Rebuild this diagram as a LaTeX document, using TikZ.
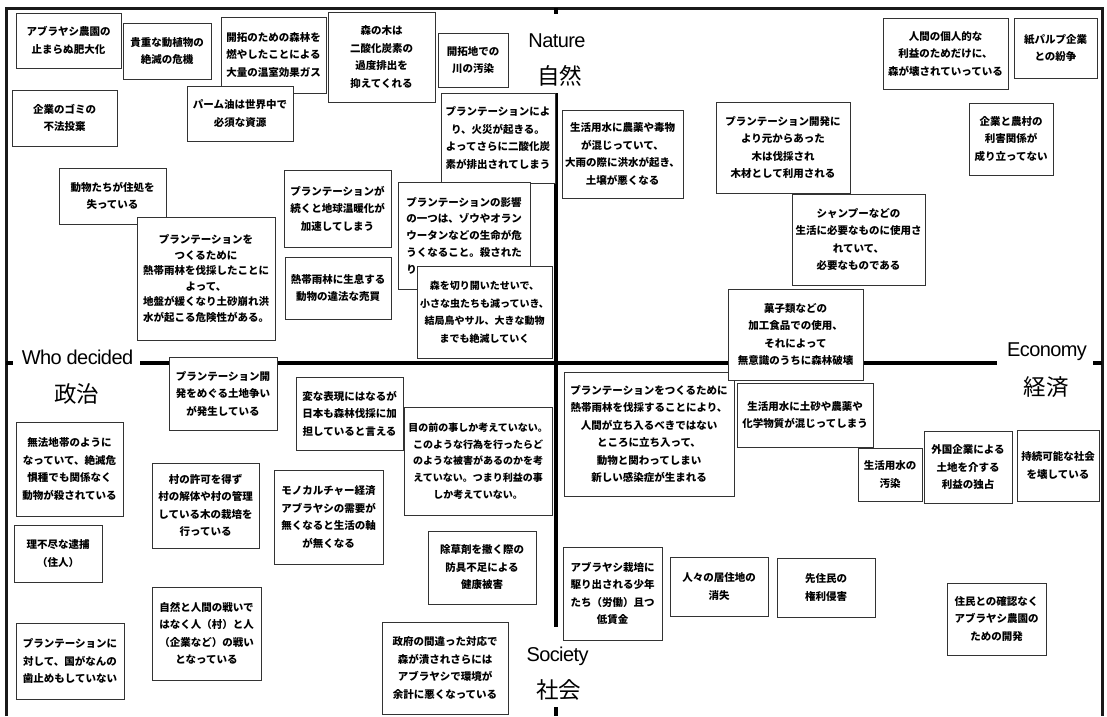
\documentclass[tikz,border=0pt]{standalone}
\usepackage{fontspec}
\newfontfamily\jp{Noto Sans CJK JP}
\newfontfamily\labf[LetterSpace=-3]{Liberation Sans}
\begin{document}
\begin{tikzpicture}[x=1pt,y=-1pt,
  bx/.style={draw=black!80, line width=1pt, fill=white, inner sep=0pt, align=center,
    font=\jp\bfseries\fontsize{10.5}{17.5}\selectfont},
  sz/.style 2 args={bx, minimum width=#1pt, minimum height=#2pt},
  ax/.style={line width=3.5pt, black},
  fr/.style={line width=3pt, black!90},
  labl/.style={font=\labf\fontsize{20}{20}\selectfont, inner sep=0pt},
  kan/.style={font=\jp\fontsize{22.5}{24}\selectfont, inner sep=0pt}
]
\useasboundingbox (0,0) rectangle (1107,716);
\fill[white] (0,0) rectangle (1107,716);
% frame
\draw[fr] (6.5,716) -- (6.5,8.5) -- (1102.5,8.5) -- (1102.5,716);
% axes
\draw[ax] (556,8) -- (556,14);
\draw[ax] (556,93) -- (556,627);
\draw[ax] (556,707) -- (556,716);
\draw[ax] (6,363) -- (13,363);
\draw[ax] (140,363) -- (997,363);
\draw[ax] (1093,363) -- (1102,363);
% axis labels
\node[labl] (nat) at (557,41) {Nature};
\node[kan] (natj) at (559.5,75.5) {自然};
\node[labl] (who) at (77.5,357.5) {Who decided};
\node[kan] (whoj) at (76.5,393.5) {政治};
\node[labl] (eco) at (1047,352) {Economy};
\node[kan] (ecoj) at (1046,387.5) {経済};
\node[labl] (soc) at (557.5,656) {Society};
\node[kan] (socj) at (558.5,689.5) {社会};
% boxes: top-left
\node[sz={105}{55}] (b1) at (68.5,40.5) {アブラヤシ農園の\\止まらぬ肥大化};
\node[sz={88}{56}] (b2) at (167,51) {貴重な動植物の\\絶滅の危機};
\node[sz={105}{76}] (b3) at (273.5,55) {開拓のための森林を\\燃やしたことによる\\大量の温室効果ガス};
\node[sz={107}{90}] (b4) at (381.5,57) {森の木は\\二酸化炭素の\\過度排出を\\抑えてくれる};
\node[sz={70}{54}] (b5) at (473,60) {開拓地での\\川の汚染};
\node[sz={106}{55}] (b7) at (240,113.5) {パーム油は世界中で\\必須な資源};
\node[sz={105}{56}] (b8) at (64.5,118) {企業のゴミの\\不法投棄};
\node[sz={114}{90}] (b9) at (498,138) {プランテーションによ\\り、火災が起きる。\\よってさらに二酸化炭\\素が排出されてしまう};
\node[sz={107}{56}] (b15) at (112.5,196) {動物たちが住処を\\失っている};
\node[sz={107}{77}] (b16) at (337.5,208.5) {プランテーションが\\続くと地球温暖化が\\加速してしまう};
\node[sz={132}{107}, align=left, font=\jp\bfseries\fontsize{10.5}{16.7}\selectfont] (b17) at (464,235.5) {プランテーションの影響\\の一つは、ゾウやオラン\\ウータンなどの生命が危\\うくなること。殺された\\り};
\node[sz={135}{92}, font=\jp\bfseries\fontsize{10}{17.5}\selectfont] (b18) at (484.5,312) {森を切り開いたせいで、\\小さな虫たちも減っていき、\\結局鳥やサル、大きな動物\\までも絶滅していく};
\node[sz={138}{123}, font=\jp\bfseries\fontsize{10.5}{15.6}\selectfont] (b19) at (206,278.5) {プランテーションを\\つくるために\\熱帯雨林を伐採したことに\\よって、\\地盤が緩くなり土砂崩れ洪\\水が起こる危険性がある。};
\node[sz={106}{62}] (b20) at (338,288) {熱帯雨林に生息する\\動物の違法な売買};
% top-right
\node[sz={121}{88}] (b10) at (622.5,154) {生活用水に農薬や毒物\\が混じっていて、\\大雨の際に洪水が起き、\\土壌が悪くなる};
\node[sz={125}{71}] (b11) at (945.5,53.5) {人間の個人的な\\利益のためだけに、\\森が壊されていっている};
\node[sz={83}{60}] (b12) at (1055.5,48) {紙パルプ企業\\との紛争};
\node[sz={134}{91}] (b13) at (783,147.5) {プランテーション開発に\\より元からあった\\木は伐採され\\木材として利用される};
\node[sz={84}{72}] (b14) at (1011,139) {企業と農村の\\利害関係が\\成り立ってない};
\node[sz={133}{91}] (b21) at (858.5,239.5) {シャンプーなどの\\生活に必要なものに使用さ\\れていて、\\必要なものである};
% bottom-right
\node[sz={170}{124}] (b28) at (649,434) {プランテーションをつくるために\\熱帯雨林を伐採することにより、\\人間が立ち入るべきではない\\ところに立ち入って、\\動物と関わってしまい\\新しい感染症が生まれる};
\node[sz={135}{91}] (b22) at (795.5,334.5) {菓子類などの\\加工食品での使用、\\それによって\\無意識のうちに森林破壊};
\node[sz={136}{64}] (b29) at (805,415) {生活用水に土砂や農薬や\\化学物質が混じってしまう};
\node[sz={64}{53}] (b30a) at (890,474.5) {生活用水の\\汚染};
\node[sz={88}{72}] (b30) at (968,467) {外国企業による\\土地を介する\\利益の独占};
\node[sz={82}{71}] (b31) at (1058,465.5) {持続可能な社会\\を壊している};
\node[sz={99}{93}] (b37) at (612.5,593.5) {アブラヤシ栽培に\\駆り出される少年\\たち（労働）且つ\\低賃金};
\node[sz={98}{59}] (b38) at (719,586.5) {人々の居住地の\\消失};
\node[sz={98}{59}] (b39) at (826,587.5) {先住民の\\権利侵害};
\node[sz={99}{72}] (b40) at (996.5,619) {住民との確認なく\\アブラヤシ農園の\\ための開発};
% bottom-left
\node[sz={108}{73}] (b25) at (223,393.5) {プランテーション開\\発をめぐる土地争い\\が発生している};
\node[sz={107}{73}] (b26) at (349.5,413.5) {変な表現にはなるが\\日本も森林伐採に加\\担していると言える};
\node[sz={148}{108}, font=\jp\bfseries\fontsize{10}{16.7}\selectfont] (b27) at (478,461) {目の前の事しか考えていない。\\このような行為を行ったらど\\のような被害があるのかを考\\えていない。つまり利益の事\\しか考えていない。};
\node[sz={107}{94}] (b32) at (69.5,469) {無法地帯のように\\なっていて、絶滅危\\惧種でも関係なく\\動物が殺されている};
\node[sz={107}{85}] (b33) at (205.5,505.5) {村の許可を得ず\\村の解体や村の管理\\している木の栽培を\\行っている};
\node[sz={109}{94}] (b34) at (328.5,517) {モノカルチャー経済\\アブラヤシの需要が\\無くなると生活の軸\\が無くなる};
\node[sz={88}{57}] (b35) at (58,553.5) {理不尽な逮捕\\（住人）};
\node[sz={108}{73}] (b36) at (482,567.5) {除草剤を撒く際の\\防具不足による\\健康被害};
\node[sz={109}{93}] (b41) at (206.5,633.5) {自然と人間の戦いで\\はなく人（村）と人\\（企業など）の戦い\\となっている};
\node[sz={108}{76}] (b42) at (70,661) {プランテーションに\\対して、国がなんの\\歯止めもしていない};
\node[sz={126}{92}] (b43) at (445,668) {政府の間違った対応で\\森が潰されさらには\\アブラヤシで環境が\\余計に悪くなっている};
\end{tikzpicture}
\end{document}
